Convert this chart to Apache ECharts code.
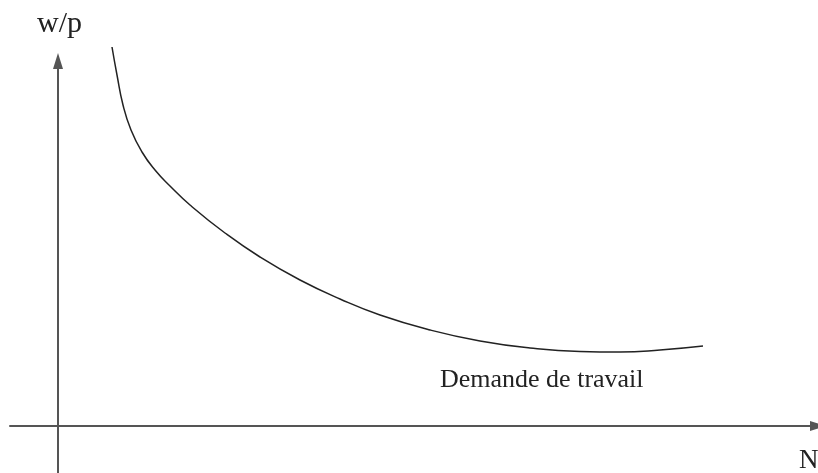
<!DOCTYPE html>
<html>
<head>
<meta charset="utf-8">
<script src="https://cdn.jsdelivr.net/npm/echarts@6/dist/echarts.min.js"></script>
<style>html,body{margin:0;padding:0;background:#fff;}#c{width:818px;height:473px;}</style>
</head>
<body>
<div id="c"></div>
<script>
// Labour demand curve (N on x, w/p on y), arbitrary units
const curveN  = [5.4, 5.9, 6.5, 7.3, 8.4, 9.7, 11.2, 13.2, 16.7, 20.2, 24.2, 28.2, 32.2, 37.2, 42.2, 47.2, 52.2, 56.2, 60.2, 64.5];
const curveWP = [37.9, 35.1, 32.1, 29.6, 27.4, 25.6, 24.0, 22.1, 19.3, 16.9, 14.6, 12.7, 11.1, 9.6, 8.5, 7.8, 7.45, 7.4, 7.6, 8.0];
const xLabel = 'N';
const yLabel = 'w/p';
const curveLabel = 'Demande de travail';

const chart = echarts.init(document.getElementById('c'), null, {renderer: 'canvas'});
const font = '"Liberation Serif", "DejaVu Serif", serif';
const axisLine = {onZero: true, show: true, symbol: ['none', 'triangle'], symbolSize: [10, 16],
  lineStyle: {color: '#555', width: 2}};
chart.setOption({
  animation: false,
  backgroundColor: '#fff',
  grid: {left: 10, right: 0, top: 61, bottom: 0, containLabel: false},
  xAxis: {type: 'value', min: -4.8, max: 76.0, axisLine: axisLine,
    axisTick: {show: false}, axisLabel: {show: false}, splitLine: {show: false}},
  yAxis: {type: 'value', min: -4.7, max: 36.5, axisLine: axisLine,
    axisTick: {show: false}, axisLabel: {show: false}, splitLine: {show: false}},
  series: [{
    type: 'line', smooth: 0.5, clip: false, showSymbol: false,
    data: curveN.map((n, i) => [n, curveWP[i]]),
    lineStyle: {color: '#222', width: 1.5}
  }],
  graphic: [
    {type: 'text', left: 37, top: 9, style: {text: yLabel, font: '30px ' + font, fill: '#222'}},
    {type: 'text', left: 440, top: 367, style: {text: curveLabel, font: '26px ' + font, fill: '#222'}},
    {type: 'text', left: 799, top: 447, style: {text: xLabel, font: '27px ' + font, fill: '#222'}}
  ]
});
</script>
</body>
</html>
